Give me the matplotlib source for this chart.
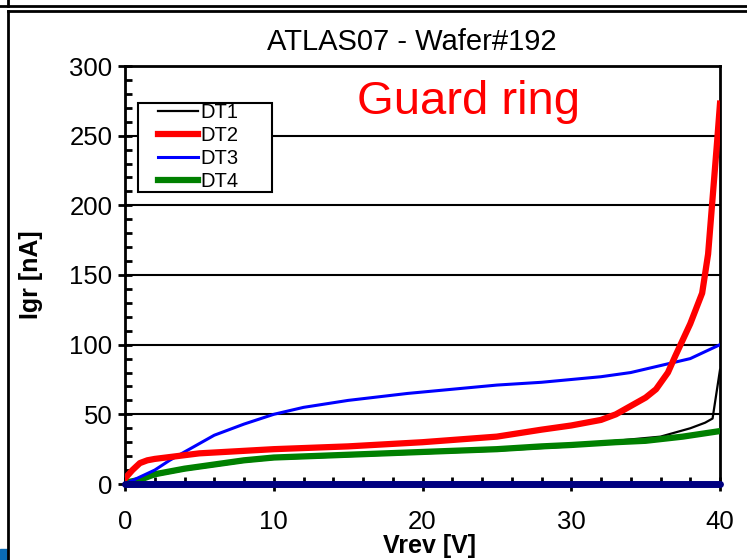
import numpy as np
import matplotlib.pyplot as plt
from matplotlib.lines import Line2D
from matplotlib.patches import Rectangle
from matplotlib.ticker import MultipleLocator

plt.rcParams['font.family'] = ['Liberation Sans', 'DejaVu Sans']

# Corriente del guard ring en función de la tensión inversa
v_dt1 = [0, 1, 2, 4, 6, 8, 10, 15, 20, 25, 30, 32, 34, 36, 38, 39, 39.5, 40]
i_dt1 = [1, 3, 6, 10, 13, 16, 18, 20, 22, 24, 27, 30, 32, 34, 40, 44, 47, 82]

v_dt2 = [0, 0.5, 1, 1.5, 2, 5, 10, 15, 20, 25, 28, 30, 32, 33, 34, 35, 35.7,
         36.5, 37, 38, 38.8, 39.2, 39.5, 39.8, 40]
i_dt2 = [4, 10, 15, 17, 18, 22, 25, 27, 30, 34, 39, 42, 46, 50, 56, 62, 68,
         80, 92, 115, 137, 165, 205, 245, 273]

v_dt3 = [0, 1, 2, 3, 4, 5, 6, 8, 10, 12, 15, 19, 22, 25, 28, 30, 32, 34, 36,
         38, 39, 40]
i_dt3 = [0, 5, 10, 17, 23, 29, 35, 43, 50, 55, 60, 65, 68, 71, 73, 75, 77, 80,
         85, 90, 95, 100]

v_dt4 = [0, 1, 2, 4, 6, 8, 10, 15, 20, 25, 28, 30, 33, 35, 37.5, 40]
i_dt4 = [1, 3, 7, 11, 14, 17, 19, 21, 23, 25, 27, 28, 30, 31, 34, 38]

v_cero = [0, 40]
i_cero = [0, 0]

W, H = 747, 560
fig = plt.figure(figsize=(W / 100, H / 100), dpi=100)


def fx(x):
    return x / W


def fy(y):
    # píxeles contados desde arriba -> fracción de figura
    return 1 - y / H


# marco del gráfico
for (xa, ya, xb, yb) in [(0, 6, W, 6), (8, 11, W, 11), (8, 0, 8, 6), (8, 11, 8, H)]:
    fig.add_artist(Line2D([fx(xa), fx(xb)], [fy(ya), fy(yb)],
                          color='black', lw=2, transform=fig.transFigure))
fig.add_artist(Rectangle((0, 0), fx(7), 11 / H, color='#0a6bb5',
                         transform=fig.transFigure))

ax = fig.add_axes([fx(125), fy(484), fx(720 - 125), (484 - 66) / H])

ax.plot(v_dt1, i_dt1, color='black', lw=1.6, label='DT1', zorder=3)
ax.plot(v_dt4, i_dt4, color='#008000', lw=4.5, label='DT4', zorder=4)
ax.plot(v_dt3, i_dt3, color='#0000ff', lw=2.2, label='DT3', zorder=5)
ax.plot(v_dt2, i_dt2, color='#ff0000', lw=4.5, label='DT2', zorder=6)
ax.plot(v_cero, i_cero, color='#000080', lw=5, zorder=7, clip_on=False,
        solid_capstyle='round')

ax.set_xlim(0, 40)
ax.set_ylim(0, 300)
ax.xaxis.set_major_locator(MultipleLocator(10))
ax.xaxis.set_minor_locator(MultipleLocator(2))
ax.yaxis.set_major_locator(MultipleLocator(50))
ax.yaxis.set_minor_locator(MultipleLocator(10))
ax.tick_params(which='major', direction='inout', length=10, width=2,
               labelsize=18.5, pad=4)
ax.tick_params(which='minor', direction='in', length=5, width=2)
ax.tick_params(axis='x', pad=14)
ax.grid(axis='y', which='major', color='black', lw=1.5)
for s in ax.spines.values():
    s.set_linewidth(2)

ax.set_xlabel('Vrev [V]', fontsize=18, fontweight='bold', va='baseline')
ax.xaxis.set_label_coords(0.511, (484 - 553) / 418)
ax.set_ylabel('Igr [nA]', fontsize=18, fontweight='bold', va='center')
ax.yaxis.set_label_coords((31 - 125) / 595, 0.5)

fig.text(fx(412), fy(50), 'ATLAS07 - Wafer#192', fontsize=21,
         ha='center', va='baseline')
fig.text(fx(357), fy(114), 'Guard ring', color='#ff0000', fontsize=34,
         ha='left', va='baseline')

# leyenda: recuadro propio y entradas sin marco
fig.add_artist(Rectangle((fx(138), fy(192)), fx(272 - 138), (192 - 103) / H,
                         fill=True, facecolor='white', edgecolor='black',
                         lw=1.5, transform=fig.transFigure, zorder=10))
handles, labels = ax.get_legend_handles_labels()
orden = ['DT1', 'DT2', 'DT3', 'DT4']
hs = [handles[labels.index(n)] for n in orden]
leg = fig.legend(hs, orden, loc='upper left', bbox_to_anchor=(fx(158), fy(103)),
                 fontsize=14.5, frameon=False, handlelength=2.0,
                 handletextpad=0.1, labelspacing=0.2, borderpad=0,
                 borderaxespad=0)
leg.set_zorder(11)

fig.savefig('out.png', dpi=100)
